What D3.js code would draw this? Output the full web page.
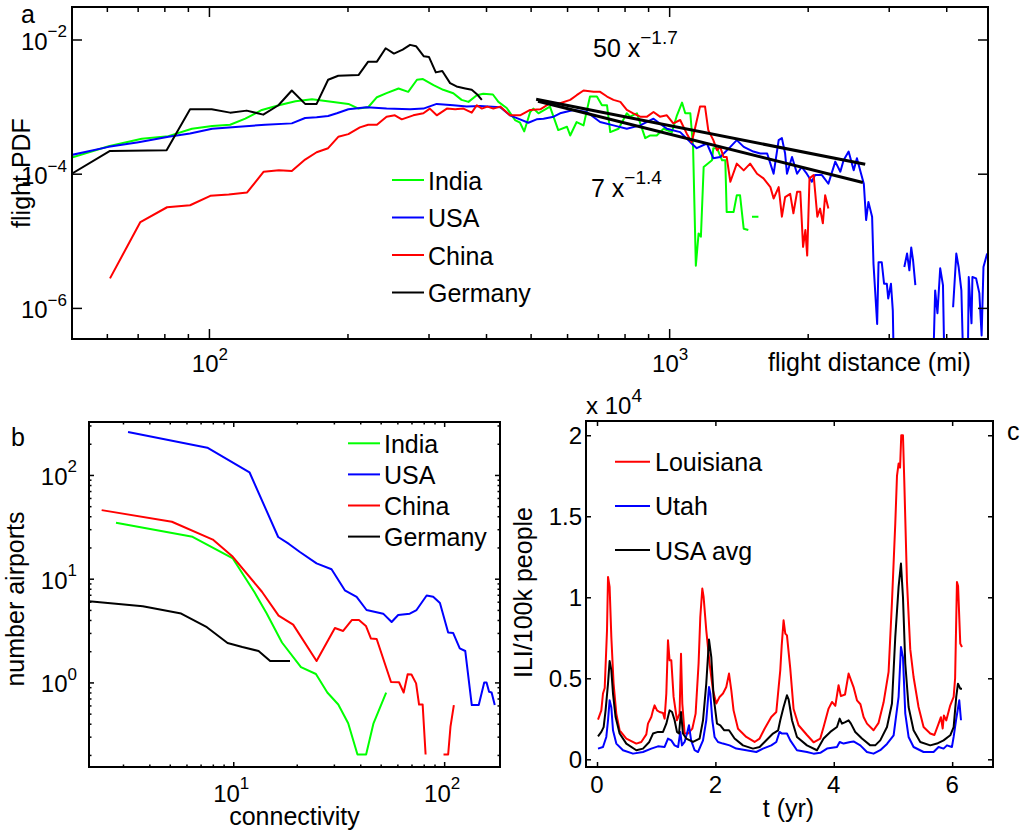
<!DOCTYPE html>
<html>
<head>
<meta charset="utf-8">
<script src="https://cdn.jsdelivr.net/npm/d3@7"></script>
<style>
body { margin: 0; background: #fff; }
text { font-family: "Liberation Sans", Arial, sans-serif; fill: #000; }
</style>
</head>
<body>
<svg id="fig" width="1028" height="839"></svg>
<script>
// ---- panel a: flight distance PDF, points are [log10 miles, log10 pdf] ----
var aXLim = [50.4, 4930], aYLim = [3.44e-7, 0.0305];
var aXMajor = [100, 1000];
var aXMinor = [60, 70, 80, 90, 200, 300, 400, 500, 600, 700, 800, 900, 2000, 3000, 4000];
var aYMajor = [1e-6, 1e-4, 1e-2];
var aNames = ["India", "USA", "China", "Germany"];

var indiaA = [[1.702,-3.76],[1.782,-3.59],[1.854,-3.48],[1.912,-3.44],[1.963,-3.33],[2.007,-3.29],[2.046,-3.27],[2.079,-3.18],[2.115,-3.05],[2.152,-2.98],[2.188,-2.92],[2.224,-2.89],[2.270,-2.93],[2.303,-2.96],[2.325,-3.03],[2.346,-3.01],[2.365,-2.86],[2.386,-2.80],[2.412,-2.73],[2.433,-2.78],[2.452,-2.60],[2.465,-2.59],[2.488,-2.68],[2.509,-2.75],[2.531,-2.80],[2.549,-2.90],[2.564,-2.93],[2.582,-2.83],[2.596,-2.81],[2.617,-2.82],[2.629,-2.93],[2.647,-3.02],[2.665,-3.20],[2.676,-3.24],[2.685,-3.37],[2.698,-3.08],[2.705,-3.03],[2.716,-3.10],[2.741,-3.00],[2.759,-3.35],[2.778,-3.30],[2.785,-3.43],[2.799,-3.23],[2.814,-3.28],[2.828,-2.85],[2.843,-2.85],[2.854,-2.98],[2.865,-2.98],[2.872,-3.38],[2.890,-3.33],[2.908,-3.10],[2.915,-3.15],[2.930,-3.10],[2.948,-3.47],[2.959,-3.43],[2.973,-3.43],[2.988,-3.33],[3.006,-3.38],[3.017,-3.13],[3.028,-2.94],[3.035,-3.10],[3.046,-3.10],[3.052,-3.60],[3.058,-5.37],[3.064,-4.89],[3.069,-4.94],[3.075,-3.90],[3.093,-3.80],[3.096,-3.62],[3.104,-3.62],[3.115,-3.80],[3.122,-3.80],[3.125,-4.57],[3.140,-4.57],[3.147,-4.32],[3.154,-4.32],[3.162,-4.82],[3.172,-4.84],null,[3.180,-4.64],[3.194,-4.64]];

var usaA = [[1.702,-3.72],[1.782,-3.60],[1.847,-3.53],[1.912,-3.45],[1.959,-3.40],[2.007,-3.33],[2.065,-3.30],[2.122,-3.27],[2.180,-3.25],[2.209,-3.17],[2.234,-3.16],[2.259,-3.14],[2.278,-3.10],[2.303,-3.04],[2.343,-3.01],[2.386,-3.03],[2.437,-3.04],[2.466,-3.03],[2.495,-2.96],[2.531,-2.98],[2.560,-3.00],[2.589,-2.99],[2.633,-3.01],[2.654,-3.13],[2.676,-3.19],[2.694,-3.24],[2.712,-3.19],[2.727,-3.18],[2.749,-3.15],[2.763,-3.10],[2.792,-3.05],[2.821,-3.08],[2.850,-3.23],[2.879,-3.28],[2.908,-3.33],[2.937,-3.28],[2.966,-3.18],[2.995,-3.33],[3.024,-3.38],[3.046,-3.53],[3.060,-3.62],[3.082,-3.55],[3.096,-3.77],[3.111,-3.75],[3.133,-3.60],[3.147,-3.50],[3.162,-3.60],[3.183,-3.67],[3.198,-3.70],[3.213,-3.70],[3.220,-3.85],[3.227,-4.00],[3.238,-3.50],[3.245,-3.47],[3.252,-3.70],[3.256,-4.00],[3.267,-3.75],[3.278,-4.00],[3.288,-3.90],[3.299,-4.00],[3.310,-4.12],[3.317,-4.02],[3.332,-4.02],[3.346,-4.15],[3.361,-3.82],[3.372,-3.97],[3.379,-3.80],[3.390,-3.67],[3.401,-3.95],[3.408,-3.77],[3.415,-3.95],[3.423,-4.15],[3.428,-4.69],[3.433,-4.42],[3.441,-4.64],[3.444,-5.34],[3.452,-6.24],[3.455,-5.32],[3.462,-5.32],[3.467,-5.64],[3.473,-5.64],[3.476,-5.86],[3.482,-5.64],[3.486,-6.04],[3.488,-6.80],null,[3.511,-5.39],[3.517,-5.19],[3.522,-5.44],[3.526,-5.10],[3.530,-5.29],[3.535,-5.66],null,[3.574,-6.80],[3.578,-5.74],[3.583,-6.08],[3.589,-5.41],[3.595,-5.66],[3.598,-6.80],null,[3.617,-5.99],[3.624,-5.19],[3.629,-5.39],[3.635,-5.74],[3.639,-6.80],null,[3.649,-6.80],[3.651,-5.54],[3.657,-6.23],[3.659,-5.54],[3.667,-5.56],[3.674,-5.78],[3.679,-6.41],[3.683,-5.39],[3.691,-5.19]];

var chinaA = [[1.785,-5.56],[1.851,-4.72],[1.909,-4.50],[1.959,-4.47],[2.003,-4.33],[2.043,-4.31],[2.083,-4.28],[2.119,-3.97],[2.152,-3.95],[2.180,-3.96],[2.209,-3.79],[2.234,-3.68],[2.259,-3.62],[2.281,-3.45],[2.303,-3.41],[2.328,-3.31],[2.346,-3.27],[2.365,-3.27],[2.386,-3.15],[2.404,-3.13],[2.419,-3.19],[2.444,-3.13],[2.466,-3.10],[2.480,-3.03],[2.495,-3.13],[2.517,-3.03],[2.535,-3.04],[2.553,-3.03],[2.571,-3.09],[2.582,-2.98],[2.593,-3.03],[2.605,-3.00],[2.618,-3.03],[2.633,-3.00],[2.654,-3.13],[2.676,-3.13],[2.698,-3.05],[2.720,-3.04],[2.741,-2.95],[2.763,-2.95],[2.785,-2.90],[2.799,-2.83],[2.814,-2.76],[2.836,-2.78],[2.850,-2.78],[2.865,-2.85],[2.879,-2.90],[2.894,-2.93],[2.908,-3.05],[2.922,-3.10],[2.937,-3.15],[2.952,-3.15],[2.966,-3.08],[2.980,-3.15],[2.995,-3.13],[3.009,-3.25],[3.024,-3.20],[3.038,-3.40],[3.049,-3.53],[3.057,-3.30],[3.067,-3.00],[3.078,-3.00],[3.085,-3.35],[3.096,-3.50],[3.104,-3.65],[3.111,-3.60],[3.118,-3.75],[3.125,-3.75],[3.133,-4.12],[3.147,-3.85],[3.162,-3.95],[3.176,-3.85],[3.191,-4.00],[3.205,-4.07],[3.220,-4.20],[3.227,-4.37],[3.238,-4.20],[3.245,-4.64],[3.252,-4.35],[3.263,-4.30],[3.270,-4.59],[3.278,-4.27],[3.285,-4.27],[3.291,-5.09],[3.296,-4.84],[3.300,-5.22],[3.305,-4.07],[3.314,-4.02],[3.322,-4.64],[3.328,-4.52],[3.334,-4.74],[3.339,-4.32],[3.346,-4.52]];

var germanyA = [[1.702,-4.00],[1.785,-3.66],[1.908,-3.65],[1.959,-3.04],[2.006,-3.04],[2.046,-3.09],[2.082,-3.06],[2.118,-3.12],[2.151,-2.98],[2.180,-2.76],[2.209,-2.96],[2.234,-2.96],[2.259,-2.60],[2.281,-2.54],[2.325,-2.53],[2.346,-2.33],[2.365,-2.33],[2.384,-2.13],[2.402,-2.21],[2.421,-2.15],[2.437,-2.08],[2.450,-2.10],[2.467,-2.25],[2.478,-2.26],[2.493,-2.49],[2.507,-2.47],[2.524,-2.65],[2.538,-2.70],[2.557,-2.73],[2.571,-2.75],[2.583,-2.82],[2.593,-2.90]];

// power-law guides, read as end points
var fitUpper = [[2.711,-2.89],[3.426,-3.86]];
var fitLower = [[2.715,-2.92],[3.421,-4.13]];

// ---- panel b: degree distribution, points are [log10 connectivity, log10 count] ----
var bXLim = [2.07, 184], bYLim = [0.153, 324];
var bXMajor = [10, 100];
var bXMinor = [3, 4, 5, 6, 7, 8, 9, 20, 30, 40, 50, 60, 70, 80, 90];
var bYMajor = [1, 10, 100];
var bYMinor = [0.2, 0.3, 0.4, 0.5, 0.6, 0.7, 0.8, 0.9, 2, 3, 4, 5, 6, 7, 8, 9, 20, 30, 40, 50, 60, 70, 80, 90, 200, 300];

var indiaB = [[0.444,1.540],[0.807,1.404],[0.998,1.195],[1.100,0.872],[1.158,0.666],[1.231,0.385],[1.321,0.148],[1.392,0.081],[1.446,-0.097],[1.498,-0.213],[1.545,-0.394],[1.589,-0.695],[1.630,-0.695],[1.665,-0.394],[1.725,-0.099]];
var usaB = [[0.501,2.415],[0.877,2.263],[1.077,2.026],[1.213,1.402],[1.264,1.335],[1.316,1.257],[1.395,1.148],[1.466,1.091],[1.529,0.888],[1.585,0.824],[1.632,0.698],[1.711,0.663],[1.751,0.582],[1.782,0.650],[1.837,0.663],[1.869,0.698],[1.917,0.838],[1.948,0.826],[1.980,0.766],[2.019,0.481],[2.043,0.476],[2.074,0.329],[2.100,0.303],[2.131,-0.218],[2.164,-0.218],[2.190,0.000],[2.201,0.000],[2.213,-0.090],[2.225,-0.097],[2.240,-0.218]];
var chinaB = [[0.376,1.661],[0.709,1.549],[0.903,1.377],[0.998,1.211],[1.136,0.874],[1.215,0.644],[1.284,0.557],[1.395,0.206],[1.482,0.525],[1.521,0.496],[1.563,0.602],[1.596,0.602],[1.629,0.544],[1.653,0.423],[1.680,0.419],[1.725,0.144],[1.748,0.004],[1.786,0.002],[1.808,-0.097],[1.827,0.079],[1.845,0.076],[1.867,-0.009],[1.881,-0.213],[1.898,-0.213],[1.912,-0.695],null,[1.997,-0.695],[2.019,-0.695],[2.030,-0.427],[2.046,-0.218]];
var germanyB = [[0.316,0.783],[0.571,0.734],[0.753,0.664],[0.875,0.532],[0.973,0.380],[1.043,0.341],[1.120,0.303],[1.175,0.206],[1.269,0.206]];

// ---- panel c: ILI time series, points are [years, ILI per 100k in units of 1e4] ----
var cXLim = [-0.186, 6.69], cYLim = [-0.0475, 2.088];
var cXTicks = [0, 2, 4, 6];
var cYTicks = [0, 0.5, 1, 1.5, 2];
var cNames = ["Louisiana", "Utah", "USA avg"];

var louisiana = [[0.017,0.245],[0.073,0.302],[0.101,0.406],[0.130,0.440],[0.169,0.796],[0.186,1.125],[0.213,1.064],[0.242,0.755],[0.280,0.467],[0.326,0.282],[0.382,0.179],[0.495,0.128],[0.664,0.097],[0.748,0.107],[0.833,0.154],[0.861,0.220],[0.917,0.261],[0.946,0.302],[0.973,0.333],[1.014,0.302],[1.057,0.292],[1.115,0.286],[1.142,0.251],[1.171,0.406],[1.199,0.735],[1.226,0.611],[1.255,0.611],[1.294,0.385],[1.351,0.241],[1.395,0.282],[1.419,0.652],[1.441,0.344],[1.480,0.159],[1.537,0.159],[1.610,0.189],[1.666,0.282],[1.716,0.591],[1.745,0.878],[1.779,1.054],[1.801,1.002],[1.846,0.796],[1.902,0.591],[1.959,0.426],[2.015,0.344],[2.071,0.385],[2.128,0.406],[2.184,0.446],[2.230,0.529],[2.269,0.426],[2.307,0.302],[2.382,0.189],[2.522,0.138],[2.662,0.107],[2.747,0.128],[2.831,0.189],[2.944,0.261],[3.029,0.292],[3.070,0.450],[3.096,0.549],[3.120,0.700],[3.152,0.858],[3.181,0.776],[3.209,0.765],[3.265,0.560],[3.321,0.310],[3.405,0.210],[3.547,0.150],[3.659,0.105],[3.772,0.128],[3.828,0.199],[3.912,0.313],[3.970,0.354],[4.026,0.330],[4.081,0.457],[4.120,0.390],[4.190,0.400],[4.250,0.529],[4.334,0.446],[4.392,0.364],[4.450,0.340],[4.504,0.261],[4.561,0.220],[4.672,0.179],[4.757,0.225],[4.841,0.350],[4.926,0.540],[4.983,0.970],[5.039,1.455],[5.068,1.750],[5.095,1.825],[5.120,1.800],[5.140,2.000],[5.169,2.000],[5.191,1.720],[5.236,1.100],[5.292,0.680],[5.348,0.508],[5.432,0.323],[5.517,0.199],[5.630,0.159],[5.700,0.150],[5.771,0.220],[5.810,0.260],[5.840,0.190],[5.860,0.270],[5.900,0.240],[5.968,0.333],[6.025,0.385],[6.050,0.500],[6.081,1.094],[6.100,1.070],[6.137,0.714],[6.166,0.693]];

var utah = [[0.017,0.066],[0.101,0.076],[0.157,0.138],[0.186,0.241],[0.213,0.364],[0.242,0.320],[0.270,0.179],[0.326,0.097],[0.439,0.056],[0.608,0.035],[0.777,0.045],[0.917,0.066],[1.030,0.080],[1.142,0.076],[1.199,0.128],[1.255,0.117],[1.311,0.086],[1.370,0.076],[1.407,0.169],[1.435,0.086],[1.480,0.107],[1.520,0.159],[1.554,0.210],[1.590,0.117],[1.649,0.056],[1.706,0.045],[1.791,0.117],[1.846,0.241],[1.892,0.446],[1.914,0.405],[1.948,0.241],[1.986,0.138],[2.044,0.107],[2.128,0.097],[2.240,0.086],[2.353,0.066],[2.522,0.056],[2.691,0.045],[2.804,0.066],[2.944,0.086],[3.029,0.107],[3.084,0.169],[3.120,0.160],[3.209,0.159],[3.265,0.117],[3.378,0.056],[3.547,0.045],[3.659,0.035],[3.772,0.040],[3.885,0.066],[4.054,0.076],[4.100,0.107],[4.166,0.097],[4.279,0.107],[4.334,0.110],[4.448,0.086],[4.560,0.045],[4.672,0.035],[4.785,0.056],[4.899,0.095],[5.011,0.148],[5.095,0.385],[5.135,0.693],[5.169,0.630],[5.208,0.282],[5.264,0.138],[5.348,0.076],[5.517,0.045],[5.686,0.045],[5.771,0.076],[5.855,0.066],[5.912,0.086],[5.996,0.076],[6.025,0.138],[6.069,0.250],[6.120,0.364],[6.149,0.241]];

var usaAvg = [[0.017,0.142],[0.073,0.169],[0.112,0.199],[0.145,0.302],[0.186,0.467],[0.213,0.607],[0.242,0.550],[0.270,0.406],[0.314,0.261],[0.382,0.159],[0.495,0.097],[0.664,0.056],[0.777,0.066],[0.883,0.107],[0.946,0.159],[1.030,0.169],[1.115,0.169],[1.171,0.220],[1.226,0.302],[1.268,0.292],[1.311,0.241],[1.351,0.169],[1.385,0.159],[1.419,0.292],[1.452,0.159],[1.508,0.128],[1.622,0.107],[1.733,0.128],[1.791,0.241],[1.846,0.467],[1.892,0.739],[1.931,0.631],[1.970,0.385],[2.027,0.220],[2.083,0.210],[2.150,0.179],[2.230,0.179],[2.324,0.128],[2.466,0.086],[2.635,0.066],[2.747,0.076],[2.831,0.107],[2.973,0.159],[3.060,0.179],[3.096,0.241],[3.152,0.323],[3.209,0.395],[3.237,0.370],[3.294,0.241],[3.378,0.138],[3.547,0.086],[3.716,0.056],[3.828,0.128],[3.941,0.169],[4.054,0.199],[4.100,0.251],[4.138,0.220],[4.194,0.230],[4.250,0.241],[4.290,0.220],[4.363,0.169],[4.476,0.128],[4.617,0.086],[4.700,0.086],[4.785,0.117],[4.899,0.199],[4.983,0.344],[5.039,0.755],[5.095,1.064],[5.135,1.208],[5.169,1.002],[5.208,0.591],[5.264,0.323],[5.348,0.179],[5.461,0.107],[5.630,0.086],[5.743,0.097],[5.855,0.117],[5.968,0.148],[6.025,0.199],[6.069,0.385],[6.098,0.467],[6.137,0.436],[6.166,0.436]];

// ---- drawing ----
var FONT = 25, TICKFONT = 24, SUPFONT = 17;
var GREEN = "#00ff00", BLUE = "#0000ff", RED = "#ff0000", BLACK = "#000000";
var svg = d3.select("#fig");

// log pairs back to plain values
var unlog = function (pts) {
    return pts.map(function (p) { return p ? [Math.pow(10, p[0]), Math.pow(10, p[1])] : null; });
};

var makePanel = function (id, box) {
    svg.append("clipPath").attr("id", id)
        .append("rect").attr("x", box.x0).attr("y", box.y0)
        .attr("width", box.x1 - box.x0).attr("height", box.y1 - box.y0);
    var g = svg.append("g");
    g.plot = g.append("g").attr("clip-path", "url(#" + id + ")");
    return g;
};

// inward ticks on all four sides
var addTicks = function (g, box, x, y, xv, yv, len) {
    var sides = [
        [d3.axisBottom(x).tickValues(xv), 0, box.y1],
        [d3.axisTop(x).tickValues(xv), 0, box.y0],
        [d3.axisLeft(y).tickValues(yv), box.x0, 0],
        [d3.axisRight(y).tickValues(yv), box.x1, 0]
    ];
    sides.forEach(function (s) {
        var a = g.append("g").attr("transform", "translate(" + s[1] + "," + s[2] + ")")
            .call(s[0].tickSize(-len).tickSizeOuter(0).tickFormat(""));
        a.select(".domain").remove();
        a.selectAll("line").attr("stroke", "#000").attr("stroke-width", 1.5);
    });
};

var frame = function (g, box) {
    g.append("rect").attr("x", box.x0).attr("y", box.y0)
        .attr("width", box.x1 - box.x0).attr("height", box.y1 - box.y0)
        .attr("fill", "none").attr("stroke", "#000").attr("stroke-width", 2);
};

var plotLine = function (g, x, y, pts, color, w) {
    var line = d3.line().defined(function (d) { return d !== null; })
        .x(function (d) { return x(d[0]); }).y(function (d) { return y(d[1]); });
    g.append("path").datum(pts).attr("d", line)
        .attr("fill", "none").attr("stroke", color).attr("stroke-width", w)
        .attr("stroke-linejoin", "round");
};

// "10" with a raised exponent
var powText = function (g, px, py, v, anchor) {
    var e = Math.round(Math.log10(v));
    var t = g.append("text").attr("x", px).attr("y", py).attr("text-anchor", anchor)
        .style("font-size", TICKFONT + "px");
    t.append("tspan").text("10");
    t.append("tspan").attr("dy", -12.5).style("font-size", SUPFONT + "px")
        .text(e < 0 ? "\u2212" + (-e) : String(e));
};

var plainText = function (g, px, py, s, anchor, size) {
    return g.append("text").attr("x", px).attr("y", py).attr("text-anchor", anchor || "start")
        .style("font-size", (size || FONT) + "px").text(s);
};

var vText = function (g, px, py, s) {
    g.append("text").attr("transform", "translate(" + px + "," + py + ") rotate(-90)")
        .attr("text-anchor", "middle").style("font-size", FONT + "px").text(s);
};

var legend = function (g, x0, y0, dy, len, gap, names, colors) {
    names.forEach(function (n, i) {
        var yy = y0 + i * dy;
        g.append("line").attr("x1", x0).attr("x2", x0 + len).attr("y1", yy).attr("y2", yy)
            .attr("stroke", colors[i]).attr("stroke-width", 2);
        plainText(g, x0 + len + gap, yy + 9.5, n);
    });
};

// panel a
var boxA = { x0: 72, y0: 7, x1: 988, y1: 339 };
var xA = d3.scaleLog().domain(aXLim).range([boxA.x0, boxA.x1]);
var yA = d3.scaleLog().domain(aYLim).range([boxA.y1, boxA.y0]);
var gA = makePanel("clipA", boxA);
plotLine(gA.plot, xA, yA, unlog(indiaA), GREEN, 2);
plotLine(gA.plot, xA, yA, unlog(usaA), BLUE, 2);
plotLine(gA.plot, xA, yA, unlog(chinaA), RED, 2);
plotLine(gA.plot, xA, yA, unlog(germanyA), BLACK, 2);
plotLine(gA.plot, xA, yA, unlog(fitUpper), BLACK, 3);
plotLine(gA.plot, xA, yA, unlog(fitLower), BLACK, 3);
addTicks(gA, boxA, xA, yA, aXMajor, aYMajor, 10);
addTicks(gA, boxA, xA, yA, aXMinor, [], 5);
frame(gA, boxA);
aXMajor.forEach(function (v) { powText(gA, xA(v) + 1, 372, v, "middle"); });
aYMajor.forEach(function (v) { powText(gA, 67, yA(v) + 10.5, v, "end"); });
vText(gA, 30, 173, "flight PDF");
plainText(gA, 768, 371, "flight distance (mi)");
plainText(gA, 21, 23, "a");
legend(gA, 392, 180, 37.5, 32, 4, aNames, [GREEN, BLUE, RED, BLACK]);
var f1 = plainText(gA, 593, 56.5, "50 x");
f1.append("tspan").attr("dy", -13).style("font-size", "19px").text("\u22121.7");
var f2 = plainText(gA, 591, 196.5, "7 x");
f2.append("tspan").attr("dy", -13).style("font-size", "19px").text("\u22121.4");

// panel b
var boxB = { x0: 89, y0: 422, x1: 500, y1: 767 };
var xB = d3.scaleLog().domain(bXLim).range([boxB.x0, boxB.x1]);
var yB = d3.scaleLog().domain(bYLim).range([boxB.y1, boxB.y0]);
var gB = makePanel("clipB", boxB);
plotLine(gB.plot, xB, yB, unlog(indiaB), GREEN, 2);
plotLine(gB.plot, xB, yB, unlog(usaB), BLUE, 2);
plotLine(gB.plot, xB, yB, unlog(chinaB), RED, 2);
plotLine(gB.plot, xB, yB, unlog(germanyB), BLACK, 2);
addTicks(gB, boxB, xB, yB, bXMajor, bYMajor, 5);
addTicks(gB, boxB, xB, yB, bXMinor, bYMinor, 2.5);
frame(gB, boxB);
bXMajor.forEach(function (v) { powText(gB, xB(v) - 2, 801.5, v, "middle"); });
bYMajor.forEach(function (v) { powText(gB, 77, yB(v) + 10, v, "end"); });
vText(gB, 24, 599, "number airports");
plainText(gB, 294.5, 825, "connectivity", "middle");
plainText(gB, 11, 446, "b");
legend(gB, 348, 443.3, 31.1, 32, 4, aNames, [GREEN, BLUE, RED, BLACK]);

// panel c
var boxC = { x0: 586, y0: 421, x1: 993, y1: 767 };
var xC = d3.scaleLinear().domain(cXLim).range([boxC.x0, boxC.x1]);
var yC = d3.scaleLinear().domain(cYLim).range([boxC.y1, boxC.y0]);
var gC = makePanel("clipC", boxC);
plotLine(gC.plot, xC, yC, louisiana, RED, 2);
plotLine(gC.plot, xC, yC, utah, BLUE, 2);
plotLine(gC.plot, xC, yC, usaAvg, BLACK, 2);
addTicks(gC, boxC, xC, yC, cXTicks, cYTicks, 5);
frame(gC, boxC);
cXTicks.forEach(function (v) { plainText(gC, xC(v), 793, String(v), "middle", TICKFONT); });
cYTicks.forEach(function (v) { plainText(gC, 582, yC(v) + 9, String(v), "end", TICKFONT); });
var mult = plainText(gC, 586, 414, "x 10", "start", TICKFONT);
mult.append("tspan").attr("dy", -12).style("font-size", "19px").text("4");
vText(gC, 532, 592.5, "ILI/100k people");
plainText(gC, 788.5, 817, "t (yr)", "middle");
plainText(gC, 1007, 440, "c");
legend(gC, 615, 461.7, 44.2, 35, 5, cNames, [RED, BLUE, BLACK]);
</script>
</body>
</html>
